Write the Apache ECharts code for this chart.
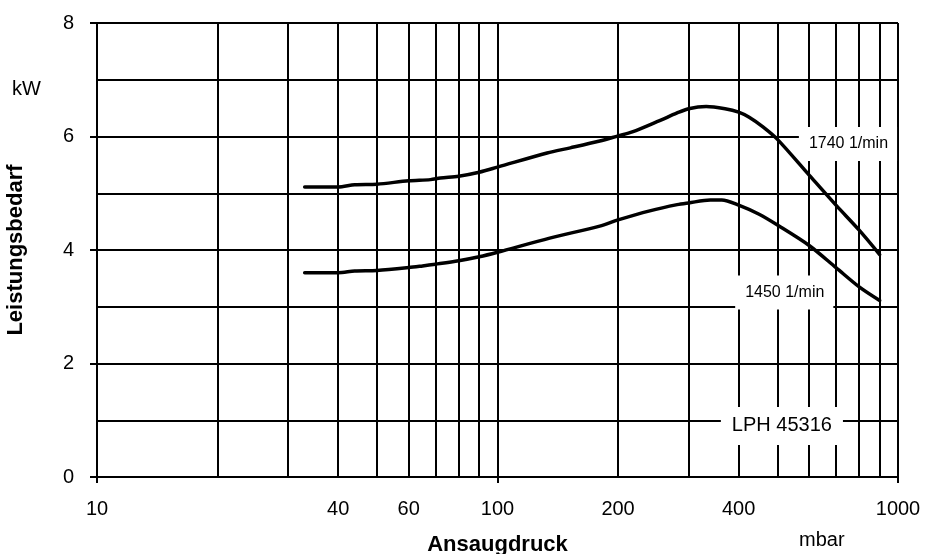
<!DOCTYPE html>
<html>
<head>
<meta charset="utf-8">
<script src="https://cdn.jsdelivr.net/npm/echarts@6/dist/echarts.min.js"></script>
<style>
html,body{margin:0;padding:0;background:#fff;}
#chart{width:926px;height:554px;}
</style>
</head>
<body>
<div id="chart"></div>
<script>
// ---- data ----
const pressure1740 = [33, 40, 44, 50, 60, 68, 72, 80, 90, 100, 133, 152, 180, 200, 217, 254, 280, 300, 332, 370, 400, 425, 460, 500, 600, 700, 800, 900];
const power1740    = [5.11, 5.11, 5.15, 5.16, 5.22, 5.24, 5.27, 5.30, 5.37, 5.46, 5.71, 5.80, 5.92, 6.01, 6.08, 6.28, 6.41, 6.49, 6.53, 6.49, 6.43, 6.34, 6.17, 5.95, 5.32, 4.79, 4.35, 3.92];
const pressure1450 = [33, 40, 44, 50, 60, 65, 70, 80, 90, 100, 135, 180, 200, 240, 281, 300, 340, 363, 400, 450, 500, 600, 700, 800, 900];
const power1450    = [3.60, 3.60, 3.63, 3.64, 3.69, 3.72, 3.75, 3.81, 3.88, 3.96, 4.21, 4.42, 4.53, 4.69, 4.80, 4.83, 4.88, 4.88, 4.79, 4.63, 4.44, 4.08, 3.69, 3.35, 3.11];
const minorGridX   = [20, 30, 40, 50, 60, 70, 80, 90, 200, 300, 400, 500, 600, 700, 800, 900];
const labeledMinorX = [40, 60, 200, 400];
const curveLabels  = [
  {text: '1740 1/min', x: 750, y: 5.87},
  {text: '1450 1/min', x: 520, y: 3.25}
];
const typeLabel    = {text: 'LPH 45316', x: 513, y: 0.90};
const xMin = 10, xMax = 1000, yMin = 0, yMax = 8;

// ---- chart ----
const chart = echarts.init(document.getElementById('chart'), null, {renderer: 'canvas'});
const FONT = '"Liberation Sans", Arial, sans-serif';
const gridLine = {color: '#000', width: 2};

const pairs = (xs, ys) => xs.map((x, i) => [x, ys[i]]);

const option = {
  animation: false,
  backgroundColor: '#fff',
  textStyle: {fontFamily: FONT, color: '#000'},
  grid: {left: 97, right: 28, top: 23, bottom: 77, containLabel: false, outerBoundsMode: 'none'},
  xAxis: {
    type: 'log', logBase: 10, min: xMin, max: xMax,
    name: 'Ansaugdruck', nameLocation: 'middle', nameGap: 57,
    nameTextStyle: {fontFamily: FONT, fontSize: 22, fontWeight: 'bold', color: '#000'},
    axisLine: {show: true, lineStyle: gridLine},
    axisTick: {show: true, inside: false, length: 6, lineStyle: gridLine},
    axisLabel: {fontFamily: FONT, fontSize: 20, color: '#000', margin: 22, formatter: v => String(v)},
    splitLine: {show: true, lineStyle: gridLine}
  },
  yAxis: {
    type: 'value', min: yMin, max: yMax, interval: 2,
    name: 'Leistungsbedarf', nameLocation: 'middle', nameGap: 70, nameRotate: 90,
    nameTextStyle: {fontFamily: FONT, fontSize: 22, fontWeight: 'bold', color: '#000'},
    axisLine: {show: true, lineStyle: gridLine},
    axisTick: {show: true, inside: false, length: 7, lineStyle: gridLine},
    axisLabel: {fontFamily: FONT, fontSize: 20, color: '#000', margin: 23},
    splitLine: {show: true, lineStyle: gridLine},
    minorTick: {show: false, splitNumber: 2},
    minorSplitLine: {show: true, lineStyle: gridLine}
  },
  graphic: [
    {type: 'text', left: 12, top: 79, style: {text: 'kW', fontFamily: FONT, fontSize: 20, fill: '#000'}},
    {type: 'text', left: 799, top: 530, style: {text: 'mbar', fontFamily: FONT, fontSize: 20, fill: '#000'}}
  ],
  series: [
    {
      type: 'line', data: [], silent: true, z: 1,
      markLine: {
        silent: true, symbol: 'none', z: 1, animation: false,
        lineStyle: {color: '#000', width: 2, type: 'solid'},
        label: {show: false},
        emphasis: {disabled: true},
        data: minorGridX.map(v => ({
          xAxis: v,
          label: labeledMinorX.includes(v) ? {
            show: true, position: 'start', distance: 22, formatter: String(v),
            fontFamily: FONT, fontSize: 20, color: '#000'
          } : {show: false}
        }))
      },
      markPoint: {
        silent: true, symbol: 'circle', symbolSize: 0, z: 2, animation: false,
        data: curveLabels.map(l => ({
          coord: [l.x, l.y],
          label: {
            show: true, position: 'inside', formatter: l.text,
            fontFamily: FONT, fontSize: 16, color: '#000',
            backgroundColor: '#fff', padding: [9, 9, 9, 10]
          }
        })).concat([{
          coord: [typeLabel.x, typeLabel.y],
          label: {
            show: true, position: 'inside', formatter: typeLabel.text,
            fontFamily: FONT, fontSize: 20, color: '#000',
            backgroundColor: '#fff', padding: [9, 11, 9, 11]
          }
        }])
      }
    },
    {
      name: '1740 1/min', type: 'line', z: 5, smooth: 0.3, showSymbol: false, silent: true,
      lineStyle: {color: '#000', width: 3.5, cap: 'round', join: 'round'},
      data: pairs(pressure1740, power1740)
    },
    {
      name: '1450 1/min', type: 'line', z: 5, smooth: 0.3, showSymbol: false, silent: true,
      lineStyle: {color: '#000', width: 3.5, cap: 'round', join: 'round'},
      data: pairs(pressure1450, power1450)
    }
  ]
};
chart.setOption(option);
</script>
</body>
</html>
